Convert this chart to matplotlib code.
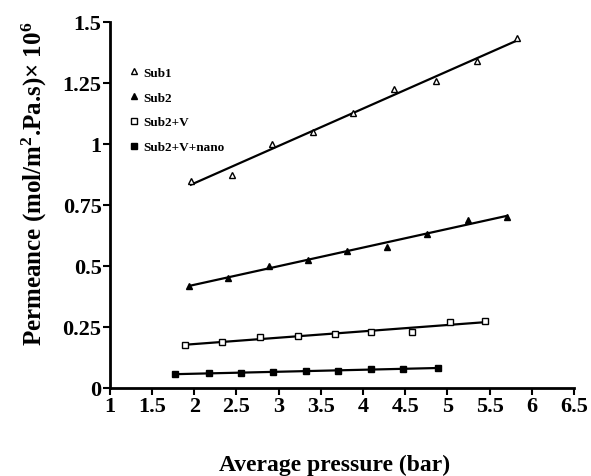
import numpy as np
import matplotlib
matplotlib.use('Agg')
import matplotlib.pyplot as plt
from matplotlib.ticker import MultipleLocator, FuncFormatter

# values
sub1_x = [1.96, 2.45, 2.92, 3.41, 3.88, 4.37, 4.86, 5.35, 5.83]
sub1_y = [0.848, 0.873, 1.00, 1.049, 1.127, 1.225, 1.258, 1.34, 1.434]

sub2_x = [1.94, 2.40, 2.88, 3.35, 3.81, 4.29, 4.76, 5.24, 5.71]
sub2_y = [0.418, 0.451, 0.50, 0.525, 0.562, 0.578, 0.631, 0.689, 0.70]

subv_x = [1.89, 2.33, 2.78, 3.23, 3.67, 4.10, 4.58, 5.03, 5.45]
subv_y = [0.176, 0.189, 0.209, 0.213, 0.221, 0.229, 0.23, 0.27, 0.275]

nano_x = [1.77, 2.18, 2.55, 2.93, 3.32, 3.70, 4.10, 4.48, 4.89]
nano_y = [0.057, 0.061, 0.061, 0.066, 0.07, 0.07, 0.078, 0.078, 0.082]

labels = ['Sub1', 'Sub2', 'Sub2+V', 'Sub2+V+nano']

plt.rcParams['font.family'] = ['Liberation Serif', 'DejaVu Serif']
plt.rcParams['font.weight'] = 'bold'
plt.rcParams['mathtext.fontset'] = 'custom'
plt.rcParams['mathtext.rm'] = 'Liberation Serif:bold'
plt.rcParams['mathtext.default'] = 'rm'


def fit_line(ax, x, y):
    k, b = np.polyfit(x, y, 1)
    xs = np.array([min(x), max(x)])
    ax.plot(xs, k * xs + b, color='black', lw=1.6, zorder=2)


def plot_data():
    fig = plt.figure(figsize=(5.91, 4.77), dpi=100)
    ax = fig.add_axes([0.186, 0.1845, 0.785, 0.7675])

    series = [
        (sub1_x, sub1_y, '^', 'white'),
        (sub2_x, sub2_y, '^', 'black'),
        (subv_x, subv_y, 's', 'white'),
        (nano_x, nano_y, 's', 'black'),
    ]
    for (x, y, m, fc), lab in zip(series, labels):
        fit_line(ax, x, y)
        ax.plot(x, y, ls='none', marker=m, ms=5 if m == '^' else 4.6,
                mfc=fc, mec='black', mew=1.0, label=lab, zorder=3)

    ax.set_xlim(1, 6.5)
    ax.set_ylim(0, 1.5)
    ax.xaxis.set_major_locator(MultipleLocator(0.5))
    ax.yaxis.set_major_locator(MultipleLocator(0.25))
    fmt = FuncFormatter(lambda v, p: ('%g' % v))
    ax.xaxis.set_major_formatter(fmt)
    ax.yaxis.set_major_formatter(fmt)

    for s in ['top', 'right']:
        ax.spines[s].set_visible(False)
    for s in ['left', 'bottom']:
        ax.spines[s].set_linewidth(2)
    ax.tick_params(width=1.5, length=5, labelsize=16, pad=1)

    ax.set_xlabel('Average pressure (bar)', fontsize=17, fontweight='bold')
    ax.xaxis.set_label_coords(0.485, -0.18)
    ax.set_ylabel('Permeance (mol/m$^2$.Pa.s)$\\times$ 10$^6$', fontsize=18,
                  fontweight='bold')
    ax.yaxis.set_label_coords(-0.131, 0.56)

    ax.legend(loc='upper left', bbox_to_anchor=(0.02, 0.91), frameon=False,
              fontsize=9.5, handlelength=0.5, handletextpad=0.4, labelspacing=0.95,
              markerscale=0.8)

    fig.savefig('out.png', dpi=100)


if __name__ == '__main__':
    plot_data()
